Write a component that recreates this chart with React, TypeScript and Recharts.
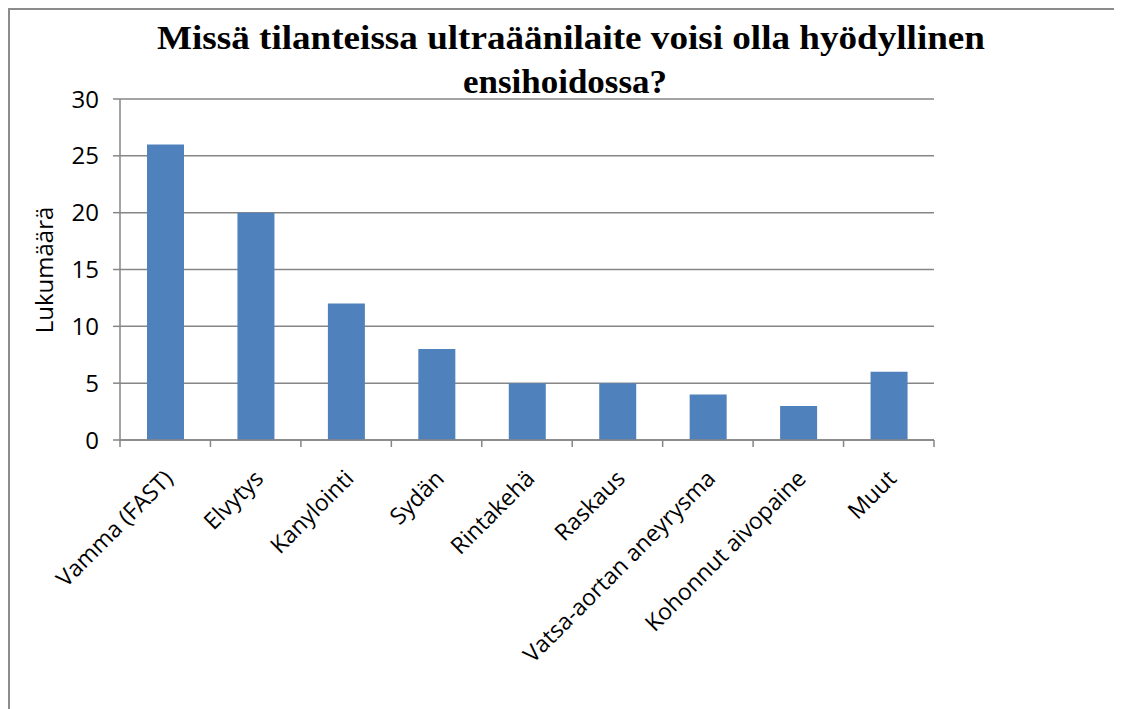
import React from "react";
import {
  BarChart,
  Bar,
  XAxis,
  YAxis,
  CartesianGrid,
  Label,
} from "recharts";

const categories = [
  "Vamma (FAST)",
  "Elvytys",
  "Kanylointi",
  "Sydän",
  "Rintakehä",
  "Raskaus",
  "Vatsa-aortan aneyrysma",
  "Kohonnut aivopaine",
  "Muut",
];
const counts = [26, 20, 12, 8, 5, 5, 4, 3, 6];
const yTicks = [0, 5, 10, 15, 20, 25, 30];
const titleLines = ["Missä tilanteissa ultraäänilaite voisi olla hyödyllinen", "ensihoidossa?"];
const yLabel = "Lukumäärä";

const data = categories.map((name, i) => ({ name, value: counts[i] }));

const AXIS = "#868686";
const SANS = "'Open Sans', sans-serif";
const SERIF = "'Liberation Serif', serif";

// label on the diagonal plus tick marks on the category boundaries
function CategoryTick(props: any) {
  const { x, y, payload, index } = props;
  const half = payload?.offset || 45.2;
  const last = index === categories.length - 1;
  const tx = x + 9;
  const ty = y + 40;
  return (
    <g>
      <line x1={x - half} y1={y} x2={x - half} y2={y + 7} stroke={AXIS} strokeWidth={1.5} />
      {last && <line x1={x + half} y1={y} x2={x + half} y2={y + 7} stroke={AXIS} strokeWidth={1.5} />}
      <text
        x={tx}
        y={ty}
        transform={`rotate(-45 ${tx} ${ty})`}
        textAnchor="end"
        fontSize={23}
        fontFamily={SANS}
        fill="#000"
      >
        {payload.value}
      </text>
    </g>
  );
}

export default function App() {
  return (
    <div
      style={{
        position: "relative",
        width: 1114,
        height: 701,
        boxSizing: "border-box",
        borderTop: "2px solid #8c8c8c",
        borderLeft: "2px solid #8c8c8c",
        background: "#fff",
      }}
    >
      <BarChart
        width={1110}
        height={697}
        data={data}
        margin={{ top: 89, right: 186, bottom: 0, left: 0 }}
        style={{ position: "absolute", left: 0, top: 0 }}
      >
        <CartesianGrid vertical={false} stroke={AXIS} strokeWidth={1.5} />
        <XAxis
          dataKey="name"
          height={267}
          interval={0}
          tickLine={false}
          tickSize={0}
          tickMargin={0}
          axisLine={{ stroke: AXIS, strokeWidth: 1.5 }}
          tick={<CategoryTick />}
        />
        <YAxis
          width={110}
          domain={[0, 30]}
          ticks={yTicks}
          interval={0}
          tickSize={7}
          tickMargin={14}
          tickLine={{ stroke: AXIS, strokeWidth: 1.5 }}
          axisLine={{ stroke: AXIS, strokeWidth: 1.5 }}
          tick={{ fontSize: 24, fontFamily: SANS, fill: "#000" }}
        >
          <Label
            content={() => (
              <text
                x={43}
                y={260}
                transform="rotate(-90 43 260)"
                textAnchor="middle"
                fontSize={24}
                fontFamily={SANS}
                fill="#000"
              >
                {yLabel}
              </text>
            )}
          />
        </YAxis>
        <Bar dataKey="value" fill="#4F81BD" barSize={37} isAnimationActive={false} />
      </BarChart>
      <svg
        width={1110}
        height={100}
        style={{ position: "absolute", left: 0, top: 0, pointerEvents: "none" }}
      >
        <text
          x={561}
          y={39}
          textAnchor="middle"
          fontSize={34}
          fontWeight="bold"
          fontFamily={SERIF}
          textLength={828}
          lengthAdjust="spacingAndGlyphs"
          fill="#000"
        >
          {titleLines[0]}
        </text>
        <text
          x={555}
          y={83}
          textAnchor="middle"
          fontSize={34}
          fontWeight="bold"
          fontFamily={SERIF}
          textLength={204}
          lengthAdjust="spacingAndGlyphs"
          fill="#000"
        >
          {titleLines[1]}
        </text>
      </svg>
    </div>
  );
}
